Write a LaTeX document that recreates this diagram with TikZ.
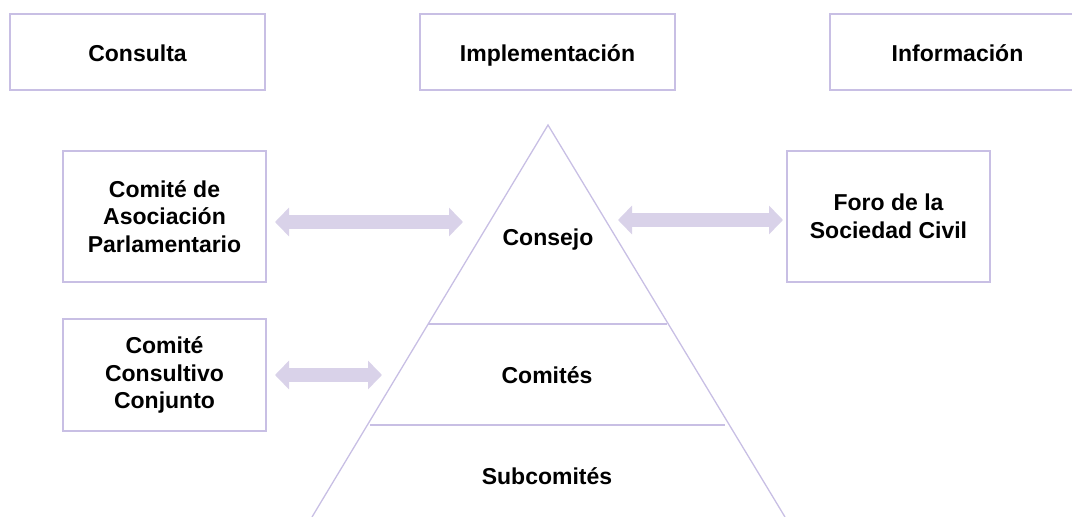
\documentclass[tikz,border=0pt]{standalone}
\usepackage{fontspec}
\setmainfont{Liberation Sans}
\usetikzlibrary{arrows.meta}
\definecolor{boxline}{HTML}{C8BFE4}
\definecolor{arrowfill}{HTML}{D9D2E9}
\tikzset{
  box/.style={draw=boxline, line width=1.3pt, fill=white, align=center,
    font=\fontsize{23}{27.6}\selectfont\bfseries, inner sep=0pt},
  onebox/.style={box, text height=20pt, text depth=2pt},
  lbl/.style={font=\fontsize{23}{27.6}\selectfont\bfseries, align=center,
    text height=19pt, text depth=3pt},
  pyr/.style={draw=boxline, line width=1.3pt},
  bigarrow/.style={draw=arrowfill, line width=14pt,
    {Triangle[width=28pt,length=14pt,fill=arrowfill]}-{Triangle[width=28pt,length=14pt,fill=arrowfill]}}
}
\begin{document}
\begin{tikzpicture}[x=1pt,y=-1pt]
\useasboundingbox (0,0) rectangle (1072,517);
\clip (0,0) rectangle (1072,517);
% top boxes
\node[onebox, minimum width=255pt, minimum height=76pt] (cons) at (137.5,52) {Consulta};
\node[onebox, minimum width=255pt, minimum height=76pt] (impl) at (547.5,52) {Implementación};
\node[onebox, minimum width=255pt, minimum height=76pt] (info) at (957.5,52) {Información};
% side boxes
\node[box, minimum width=203pt, minimum height=131pt] (cap) at (164.5,216.5) {Comité de\\Asociación\\Parlamentario};
\node[box, minimum width=203pt, minimum height=112pt] (ccc) at (164.5,375) {Comité\\Consultivo\\Conjunto};
\node[box, minimum width=203pt, minimum height=131pt] (foro) at (888.5,216.5) {Foro de la\\Sociedad Civil};
% pyramid
\coordinate (apex) at (548,125);
\coordinate (bl) at (312,517);
\coordinate (br) at (785,517);
\draw[pyr] (bl) -- (apex) -- (br);
\coordinate (l1) at (428,324);
\coordinate (r1) at (667,324);
\coordinate (l2) at (370,425);
\coordinate (r2) at (725,425);
\draw[pyr] (l1) -- (r1);
\draw[pyr] (l2) -- (r2);
\node[lbl] (consejo) at (548,237) {Consejo};
\node[lbl] (comites) at (547,375) {Comités};
\node[lbl] (subcom) at (547,476) {Subcomités};
% arrows
\coordinate (a1s) at (275,222);
\coordinate (a1e) at (463,222);
\coordinate (a2s) at (618,220);
\coordinate (a2e) at (783,220);
\coordinate (a3s) at (275,375);
\coordinate (a3e) at (382,375);
\draw[bigarrow] (a1s) -- (a1e);
\draw[bigarrow] (a2s) -- (a2e);
\draw[bigarrow] (a3s) -- (a3e);
\end{tikzpicture}
\end{document}
